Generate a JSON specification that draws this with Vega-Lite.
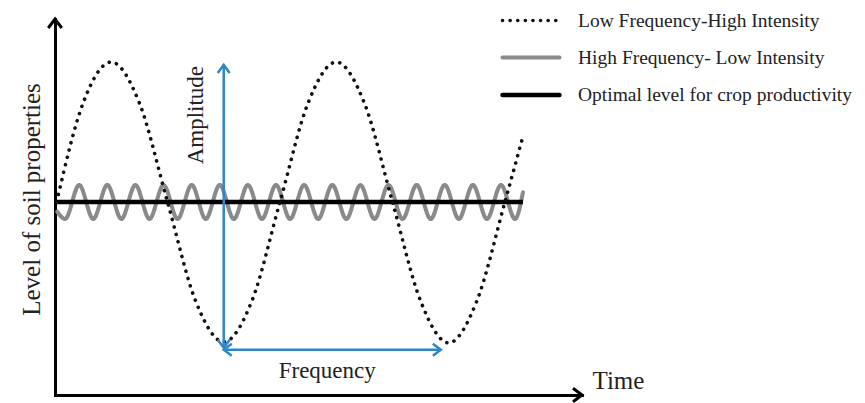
{
  "$schema": "https://vega.github.io/schema/vega-lite/v6.json",
  "autosize": {"type": "none"},
  "padding": {"left": 55, "top": 19, "right": 283, "bottom": 8},
  "width": 527,
  "height": 376,
  "background": "white",
  "config": {"view": {"stroke": null}, "font": "Liberation Serif"},
  "datasets": {
    "lines": [
      {"series": "High Frequency- Low Intensity", "t": 0.04, "level": 9.5},
      {"series": "High Frequency- Low Intensity", "t": 0.18, "level": 9.12},
      {"series": "High Frequency- Low Intensity", "t": 0.43, "level": 10.88},
      {"series": "High Frequency- Low Intensity", "t": 0.68, "level": 9.12},
      {"series": "High Frequency- Low Intensity", "t": 0.93, "level": 10.88},
      {"series": "High Frequency- Low Intensity", "t": 1.18, "level": 9.12},
      {"series": "High Frequency- Low Intensity", "t": 1.43, "level": 10.88},
      {"series": "High Frequency- Low Intensity", "t": 1.68, "level": 9.12},
      {"series": "High Frequency- Low Intensity", "t": 1.93, "level": 10.88},
      {"series": "High Frequency- Low Intensity", "t": 2.18, "level": 9.12},
      {"series": "High Frequency- Low Intensity", "t": 2.43, "level": 10.88},
      {"series": "High Frequency- Low Intensity", "t": 2.68, "level": 9.12},
      {"series": "High Frequency- Low Intensity", "t": 2.93, "level": 10.88},
      {"series": "High Frequency- Low Intensity", "t": 3.18, "level": 9.12},
      {"series": "High Frequency- Low Intensity", "t": 3.43, "level": 10.88},
      {"series": "High Frequency- Low Intensity", "t": 3.68, "level": 9.12},
      {"series": "High Frequency- Low Intensity", "t": 3.93, "level": 10.88},
      {"series": "High Frequency- Low Intensity", "t": 4.18, "level": 9.12},
      {"series": "High Frequency- Low Intensity", "t": 4.43, "level": 10.88},
      {"series": "High Frequency- Low Intensity", "t": 4.68, "level": 9.12},
      {"series": "High Frequency- Low Intensity", "t": 4.93, "level": 10.88},
      {"series": "High Frequency- Low Intensity", "t": 5.18, "level": 9.12},
      {"series": "High Frequency- Low Intensity", "t": 5.43, "level": 10.88},
      {"series": "High Frequency- Low Intensity", "t": 5.68, "level": 9.12},
      {"series": "High Frequency- Low Intensity", "t": 5.93, "level": 10.88},
      {"series": "High Frequency- Low Intensity", "t": 6.18, "level": 9.12},
      {"series": "High Frequency- Low Intensity", "t": 6.43, "level": 10.88},
      {"series": "High Frequency- Low Intensity", "t": 6.68, "level": 9.12},
      {"series": "High Frequency- Low Intensity", "t": 6.93, "level": 10.88},
      {"series": "High Frequency- Low Intensity", "t": 7.18, "level": 9.12},
      {"series": "High Frequency- Low Intensity", "t": 7.43, "level": 10.88},
      {"series": "High Frequency- Low Intensity", "t": 7.68, "level": 9.12},
      {"series": "High Frequency- Low Intensity", "t": 7.93, "level": 10.88},
      {"series": "High Frequency- Low Intensity", "t": 8.18, "level": 9.12},
      {"series": "High Frequency- Low Intensity", "t": 8.32, "level": 10.5},
      {"series": "Optimal level for crop productivity", "t": 0, "level": 10},
      {"series": "Optimal level for crop productivity", "t": 8.32, "level": 10},
      {"series": "Low Frequency-High Intensity", "t": 0.03, "level": 10},
      {"series": "Low Frequency-High Intensity", "t": 0.5, "level": 15.13},
      {"series": "Low Frequency-High Intensity", "t": 1.0, "level": 17.25},
      {"series": "Low Frequency-High Intensity", "t": 1.5, "level": 15.13},
      {"series": "Low Frequency-High Intensity", "t": 2.0, "level": 10},
      {"series": "Low Frequency-High Intensity", "t": 2.5, "level": 4.87},
      {"series": "Low Frequency-High Intensity", "t": 3.0, "level": 2.75},
      {"series": "Low Frequency-High Intensity", "t": 3.5, "level": 4.87},
      {"series": "Low Frequency-High Intensity", "t": 4.0, "level": 10},
      {"series": "Low Frequency-High Intensity", "t": 4.5, "level": 15.13},
      {"series": "Low Frequency-High Intensity", "t": 5.0, "level": 17.25},
      {"series": "Low Frequency-High Intensity", "t": 5.5, "level": 15.13},
      {"series": "Low Frequency-High Intensity", "t": 6.0, "level": 10},
      {"series": "Low Frequency-High Intensity", "t": 6.5, "level": 4.87},
      {"series": "Low Frequency-High Intensity", "t": 7.0, "level": 2.7},
      {"series": "Low Frequency-High Intensity", "t": 7.5, "level": 4.87},
      {"series": "Low Frequency-High Intensity", "t": 8.0, "level": 10},
      {"series": "Low Frequency-High Intensity", "t": 8.32, "level": 13.4}
    ],
    "axisHeads": [
      {"t": 9.37, "level": 0, "dir": "right"},
      {"t": 0, "level": 19.48, "dir": "up"}
    ],
    "blueRules": [
      {"t": 3.0, "level": 2.45, "t2": 3.0, "level2": 17.1},
      {"t": 3.0, "level": 2.35, "t2": 6.86, "level2": 2.35}
    ],
    "blueHeads": [
      {"t": 3.0, "level": 17.1, "dir": "up"},
      {"t": 3.0, "level": 2.45, "dir": "down"},
      {"t": 3.0, "level": 2.35, "dir": "left"},
      {"t": 6.86, "level": 2.35, "dir": "right"}
    ],
    "labels": [
      {"t": 2.5, "level": 14.5, "label": "Amplitude", "angle": 270},
      {"t": 4.84, "level": 0.88, "label": "Frequency", "angle": 0}
    ]
  },
  "encoding": {
    "x": {
      "field": "t", "type": "quantitative",
      "scale": {"domain": [0, 9.37], "nice": false, "zero": false},
      "axis": {
        "title": "Time", "domain": true, "domainColor": "black", "domainWidth": 3, "domainCap": "square",
        "ticks": false, "labels": false, "grid": false,
        "titleFont": "Liberation Serif", "titleFontSize": 25, "titleFontWeight": "normal", "titleColor": "#222",
        "titleX": 537, "titleY": -7, "titleAlign": "left", "titleBaseline": "alphabetic", "titleAngle": 0
      }
    },
    "y": {
      "field": "level", "type": "quantitative",
      "scale": {"domain": [0, 19.48], "nice": false, "zero": false},
      "axis": {
        "title": "Level of soil properties", "domain": true, "domainColor": "black", "domainWidth": 3, "domainCap": "square",
        "ticks": false, "labels": false, "grid": false,
        "titleFont": "Liberation Serif", "titleFontSize": 25, "titleFontWeight": "normal", "titleColor": "#222",
        "titleX": -24, "titleY": 180, "titleAlign": "center", "titleBaseline": "middle", "titleAngle": 270
      }
    }
  },
  "layer": [
    {
      "data": {"name": "lines"},
      "transform": [{"filter": "datum.series === 'High Frequency- Low Intensity'"}],
      "mark": {"type": "line", "interpolate": "monotone", "strokeCap": "round", "strokeJoin": "round"},
      "encoding": {
        "color": {"field": "series", "type": "nominal",
          "scale": {"domain": ["Low Frequency-High Intensity", "High Frequency- Low Intensity", "Optimal level for crop productivity"], "range": ["#111111", "#8a8a8a", "#000000"]},
          "legend": {
            "orient": "none", "legendX": 464, "legendY": -10, "title": null,
            "symbolType": "M-3,0H3", "symbolSize": 361,
            "labelFont": "Liberation Serif", "labelFontSize": 19.5, "labelColor": "#222", "labelOffset": 35,
            "labelLimit": 0, "rowPadding": 15.5,
            "encode": {"symbols": {"update": {"strokeCap": {"value": "round"}}}}
          }
        },
        "strokeDash": {"field": "series", "type": "nominal",
          "scale": {"domain": ["Low Frequency-High Intensity", "High Frequency- Low Intensity", "Optimal level for crop productivity"], "range": [[0.1, 7.5], [1, 0], [1, 0]]}},
        "strokeWidth": {"field": "series", "type": "nominal",
          "scale": {"domain": ["Low Frequency-High Intensity", "High Frequency- Low Intensity", "Optimal level for crop productivity"], "range": [3.6, 4.5, 3]}}
      }
    },
    {
      "data": {"name": "lines"},
      "transform": [{"filter": "datum.series === 'Optimal level for crop productivity'"}],
      "mark": {"type": "line", "interpolate": "linear"},
      "encoding": {
        "color": {"field": "series", "type": "nominal"},
        "strokeDash": {"field": "series", "type": "nominal"},
        "strokeWidth": {"field": "series", "type": "nominal"}
      }
    },
    {
      "data": {"name": "lines"},
      "transform": [{"filter": "datum.series === 'Low Frequency-High Intensity'"}],
      "mark": {"type": "line", "interpolate": "monotone", "strokeCap": "round"},
      "encoding": {
        "color": {"field": "series", "type": "nominal"},
        "strokeDash": {"field": "series", "type": "nominal"},
        "strokeWidth": {"field": "series", "type": "nominal"}
      }
    },
    {
      "data": {"name": "blueRules"},
      "mark": {"type": "rule", "color": "#2e86c8", "strokeWidth": 2.5},
      "encoding": {
        "x2": {"field": "t2"},
        "y2": {"field": "level2"}
      }
    },
    {
      "data": {"name": "blueHeads"},
      "mark": {"type": "point", "filled": false, "stroke": "#2e86c8", "strokeWidth": 2.5, "size": 256, "opacity": 1},
      "encoding": {
        "shape": {"field": "dir", "type": "nominal", "legend": null,
          "scale": {"domain": ["up", "down", "left", "right"], "range": ["M-0.75,1L0,0L0.75,1", "M-0.75,-1L0,0L0.75,-1", "M1,-0.75L0,0L1,0.75", "M-1,-0.75L0,0L-1,0.75"]}}
      }
    },
    {
      "data": {"name": "axisHeads"},
      "mark": {"type": "point", "filled": false, "stroke": "black", "strokeWidth": 3, "size": 324, "opacity": 1},
      "encoding": {
        "shape": {"field": "dir", "type": "nominal", "legend": null}
      }
    },
    {
      "data": {"name": "labels"},
      "transform": [{"filter": "datum.angle === 270"}],
      "mark": {"type": "text", "font": "Liberation Serif", "fontSize": 23, "color": "#222", "angle": 270, "align": "center", "baseline": "middle"},
      "encoding": {"text": {"field": "label"}}
    },
    {
      "data": {"name": "labels"},
      "transform": [{"filter": "datum.angle === 0"}],
      "mark": {"type": "text", "font": "Liberation Serif", "fontSize": 23, "color": "#222", "align": "center", "baseline": "alphabetic"},
      "encoding": {"text": {"field": "label"}}
    }
  ]
}
